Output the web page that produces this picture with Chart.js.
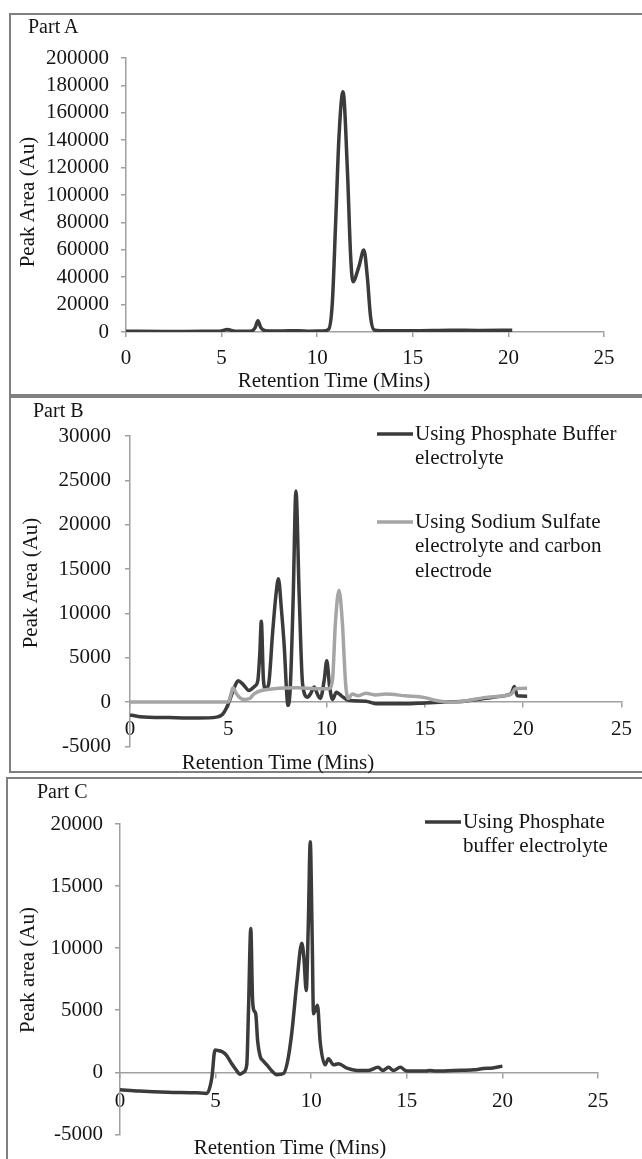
<!DOCTYPE html>
<html>
<head>
<meta charset="utf-8">
<script src="https://cdn.jsdelivr.net/npm/chart.js@4.4.1/dist/chart.umd.min.js"></script>
<style>
  html, body { margin: 0; padding: 0; background: #fff; }
  body { position: relative; width: 642px; height: 1159px; overflow: hidden; font-family: "Liberation Serif", "Times New Roman", serif; color: #151515; }
  .panel { position: absolute; box-sizing: border-box; border: 2px solid #808080; width: 700px; }
  canvas { position: absolute; left: 0; }
  .txt { position: absolute; font-size: 21px; line-height: 21px; white-space: nowrap; }
  .part { font-size: 20px; line-height: 20px; }
  .xt { transform: translate(-50%, -50%); }
  .yt { transform: translate(-50%, -50%) rotate(-90deg); }
</style>
</head>
<body>
<div class="panel" style="left:9px; top:13px; height:383px;"></div>
<div class="panel" style="left:9px; top:396px; height:377px;"></div>
<div class="panel" style="left:6px; top:777px; height:400px;"></div>

<canvas id="chartA" width="642" height="394" style="top:0px"></canvas>
<canvas id="chartB" width="642" height="377" style="top:396px"></canvas>
<canvas id="chartC" width="642" height="382" style="top:777px"></canvas>

<div class="txt part" style="left:28px; top:16px;">Part A</div>
<div class="txt part" style="left:33px; top:400px;">Part B</div>
<div class="txt part" style="left:37px; top:781px;">Part C</div>

<div class="txt xt" style="left:334px; top:380px;">Retention Time (Mins)</div>
<div class="txt xt" style="left:278px; top:762px;">Retention Time (Mins)</div>
<div class="txt xt" style="left:290px; top:1147px;">Retention Time (Mins)</div>

<div class="txt yt" style="left:27px; top:202px;">Peak Area (Au)</div>
<div class="txt yt" style="left:30px; top:583px;">Peak Area (Au)</div>
<div class="txt yt" style="left:27px; top:970px;">Peak area (Au)</div>

<script>
// retention time (min) / peak area (Au)
const timeA = [0, 2, 4, 4.9, 5.3, 5.7, 6.5, 6.75, 6.9, 7.05, 7.3, 8, 9, 9.6, 10.3, 10.6, 10.79, 10.97, 11.14, 11.35,
  11.58, 11.75, 11.87, 12.18, 12.44, 12.62, 12.79, 12.97, 13.3, 15, 17, 18.5, 20.2];
const areaA = [500, 400, 500, 600, 1800, 600, 500, 3000, 8200, 3200, 1000, 700, 1000, 600, 700, 2000, 21000, 81800, 142600, 175400,
  118000, 55000, 36700, 47700, 59900, 40400, 11200, 1500, 900, 900, 1300, 1100, 1300];

// Part B, phosphate buffer
const timeB1 = [0, 0.5, 2, 3.5, 4.4, 4.7, 4.9, 5.1, 5.3, 5.5, 5.75, 6.05, 6.35, 6.5, 6.6, 6.68, 6.79, 6.9, 7.05, 7.26,
  7.42, 7.55, 7.7, 7.85, 7.97, 8.03, 8.15, 8.3, 8.44, 8.61, 8.78, 9.03, 9.2, 9.37, 9.55, 9.68, 9.88, 10.01, 10.15, 10.3,
  10.5, 10.75, 11.1, 12, 12.5, 14, 15, 16, 17, 18, 19, 19.4, 19.55, 19.7, 20.2];
const areaB1 = [-1450, -1650, -1750, -1800, -1700, -1400, -700, 400, 1600, 2400, 2000, 1300, 1800, 2400, 5400, 9100, 2400, 1500, 2000, 8000,
  12000, 13900, 10500, 6100, 1000, -370, 1500, 11700, 23800, 11700, 2000, 550, 1000, 1700, 800, 400, 2500, 4650, 1800, 300,
  1100, 700, 200, 100, -200, -200, -100, 0, 100, 400, 700, 1000, 1750, 700, 650];

// Part B, sodium sulfate + carbon electrode
const timeB2 = [0, 5.0, 5.1, 5.24, 5.4, 5.58, 5.8, 6.09, 6.3, 6.68, 7.3, 8.5, 9.5, 10.1, 10.3, 10.45, 10.63, 10.8, 10.97, 11.1,
  11.3, 11.6, 12, 12.5, 13, 14, 15, 15.5, 16.2, 17, 18, 19, 19.4, 19.6, 20.2];
const areaB2 = [0, 0, 600, 1600, 1000, 500, 300, 400, 900, 1300, 1500, 1600, 1500, 1500, 2500, 9000, 12600, 9000, 2000, 400,
  900, 700, 1000, 800, 900, 700, 500, 200, 0, 100, 500, 700, 900, 1500, 1550];

// Part C, phosphate buffer
const timeC = [0, 1, 2.5, 4, 4.54, 4.8, 4.97, 5.15, 5.35, 5.55, 5.8, 6.05, 6.28, 6.45, 6.63, 6.72, 6.84, 6.93, 7.0, 7.1,
  7.2, 7.33, 7.5, 7.68, 7.95, 8.2, 8.55, 8.76, 8.99, 9.25, 9.51, 9.62, 9.74, 9.85, 9.95, 10.05, 10.12, 10.22, 10.33, 10.47,
  10.73, 10.9, 11.17, 11.43, 11.87, 12.4, 13, 13.5, 13.75, 14.05, 14.3, 14.66, 15, 16, 16.2, 16.5, 17.5, 18.5, 19, 19.5, 20];
const areaC = [-1400, -1500, -1600, -1650, -1700, -480, 1800, 1750, 1650, 1400, 800, 250, -150, 0, 600, 5000, 11580, 6000, 5000, 4700,
  2500, 1300, 900, 600, 100, -200, -100, 850, 3250, 7250, 10400, 9200, 6580, 12000, 18580, 11000, 4720, 5000, 5400, 2450,
  600, 1100, 600, 700, 330, 150, 150, 400, 150, 400, 150, 400, 100, 100, 150, 100, 150, 200, 300, 350, 500];

const legendB = [["Using Phosphate Buffer", "electrolyte"], ["Using Sodium Sulfate", "electrolyte and carbon", "electrode"]];
const legendC = [["Using Phosphate", "buffer electrolyte"]];

const DARK = "#3b3b3b";
const GREY = "#a5a5a5";
const AXIS = "#a0a0a0";
const FONT = '"Liberation Serif", "Times New Roman", serif';

Chart.defaults.font.family = FONT;
Chart.defaults.font.size = 21;
Chart.defaults.color = "#151515";

function pts(xs, ys) {
    return xs.map((x, i) => ({ x: x, y: ys[i] }));
}

function line(label, xs, ys, color, order) {
    return {
        label: label,
        data: pts(xs, ys),
        borderColor: color,
        backgroundColor: color,
        borderWidth: 3.5,
        pointRadius: 0,
        cubicInterpolationMode: "monotone",
        fill: false,
        order: order,
    };
}

// legend drawn inside the plot, one swatch per dataset, multi-line labels
const sideLegend = {
    id: "sideLegend",
    afterDraw(chart, args, opts) {
        if (!opts.labels) return;
        const ctx = chart.ctx;
        ctx.save();
        ctx.font = "21px " + FONT;
        ctx.textBaseline = "middle";
        ctx.textAlign = "left";
        ctx.fillStyle = "#151515";
        opts.labels.forEach((lines, i) => {
            const ds = chart.data.datasets[i];
            const y = opts.rows[i];
            ctx.strokeStyle = ds.borderColor;
            ctx.lineWidth = ds.borderWidth;
            ctx.beginPath();
            ctx.moveTo(opts.x, y);
            ctx.lineTo(opts.x + opts.swatch, y);
            ctx.stroke();
            lines.forEach((t, j) => ctx.fillText(t, opts.x + opts.swatch + 2, y + j * opts.gap));
        });
        ctx.restore();
    }
};

function makeChart(id, cfg) {
    const ctx = document.getElementById(id).getContext("2d");
    return new Chart(ctx, {
        type: "line",
        data: { datasets: cfg.datasets },
        plugins: [sideLegend],
        options: {
            responsive: false,
            animation: false,
            devicePixelRatio: 1,
            layout: { padding: cfg.padding },
            plugins: {
                legend: { display: false },
                tooltip: { enabled: false },
                sideLegend: cfg.legend || {},
            },
            scales: {
                x: {
                    type: "linear",
                    position: cfg.xPos,
                    min: 0,
                    max: 25,
                    ticks: { stepSize: 5, padding: cfg.xPad, maxRotation: 0, autoSkip: false, callback: v => String(v) },
                    grid: { drawOnChartArea: false, drawTicks: true, tickLength: 5, color: AXIS, lineWidth: 1.5 },
                    border: { color: AXIS, width: 1.5 },
                    afterFit: cfg.xHeight ? s => { s.height = cfg.xHeight; } : undefined,
                },
                y: {
                    min: cfg.yMin,
                    max: cfg.yMax,
                    ticks: { stepSize: cfg.yStep, padding: cfg.yPad, autoSkip: false, callback: v => String(v) },
                    grid: { drawOnChartArea: false, drawTicks: true, tickLength: 5, color: AXIS, lineWidth: 1.5 },
                    border: { color: AXIS, width: 1.5 },
                    afterFit: s => { s.width = cfg.yWidth; },
                }
            }
        }
    });
}

makeChart("chartA", {
    datasets: [line("Part A", timeA, areaA, DARK, 0)],
    padding: { top: 58, right: 38, left: 0, bottom: 0 },
    xPos: "bottom",
    xHeight: 62,
    xPad: 9,
    yMin: 0, yMax: 200000, yStep: 20000,
    yPad: 12,
    yWidth: 126,
});

makeChart("chartB", {
    datasets: [
        line(legendB[0].join(" "), timeB1, areaB1, DARK, 1),
        line(legendB[1].join(" "), timeB2, areaB2, GREY, 0),
    ],
    padding: { top: 40, right: 18, left: 0, bottom: 23 },
    xPos: { y: 0 },
    xPad: 10,
    yMin: -5000, yMax: 30000, yStep: 5000,
    yPad: 14,
    yWidth: 130,
    legend: { labels: legendB, x: 377, swatch: 36, rows: [38, 126], gap: 24.5 },
});

makeChart("chartC", {
    datasets: [line(legendC[0].join(" "), timeC, areaC, DARK, 0)],
    padding: { top: 47, right: 44, left: 0, bottom: 22 },
    xPos: { y: 0 },
    xPad: 12,
    yMin: -5000, yMax: 20000, yStep: 5000,
    yPad: 12,
    yWidth: 120,
    legend: { labels: legendC, x: 425, swatch: 36, rows: [45], gap: 24 },
});
</script>
</body>
</html>
